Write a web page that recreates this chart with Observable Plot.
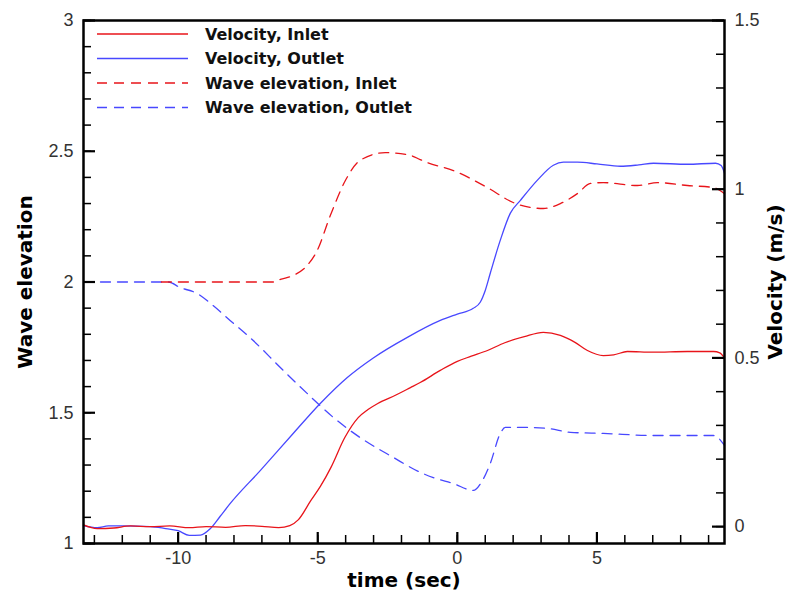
<!DOCTYPE html>
<html>
<head>
<meta charset="utf-8">
<script src="https://cdn.jsdelivr.net/npm/d3@7"></script>
<script src="https://cdn.jsdelivr.net/npm/@observablehq/plot@0.6"></script>
<style>
  html, body { margin: 0; padding: 0; background: #fff; }
  #wrap { position: relative; width: 799px; height: 594px; }
  #legend { position: absolute; left: 0; top: 0; pointer-events: none; }
</style>
</head>
<body>
<div id="wrap"></div>
<script>
// ---- Data ----
// Velocity, Inlet (m/s)
const velInletT = [-13.39,-12.9,-12.3,-11.7,-11.0,-10.3,-9.6,-9.0,-8.3,-7.6,-7.0,-6.4,-6.0,-5.7,-5.25,-4.9,-4.53,-4.03,-3.55,-3.2,-2.85,-2.2,-1.68,-1.33,-0.61,0,0.5,1.08,1.7,2.4,3.08,3.69,4.2,4.66,5.23,5.6,6.09,7.0,8.24,9.18,9.4,9.57];
const velInletV = [0.005,-0.006,-0.004,0.002,0.0,0.002,-0.003,0.0,-0.002,0.003,0.001,-0.003,0.003,0.02,0.077,0.12,0.175,0.264,0.323,0.347,0.365,0.39,0.412,0.427,0.463,0.49,0.505,0.522,0.545,0.563,0.576,0.567,0.547,0.522,0.507,0.509,0.519,0.517,0.519,0.519,0.515,0.5];
// Velocity, Outlet (m/s)
const velOutletT = [-13.39,-12.9,-12.5,-12.0,-11.0,-10.5,-10.0,-9.6,-9.2,-8.85,-8.5,-8.14,-7.06,-5.88,-4.91,-3.94,-3.01,-1.79,-0.61,0.0,0.57,0.82,1.0,1.18,1.54,1.9,2.26,2.87,3.44,3.8,4.3,5.0,5.84,6.5,7.03,8.24,9.25,9.45,9.57];
const velOutletV = [0.003,-0.003,0.002,0.002,0.0,-0.005,-0.012,-0.026,-0.025,-0.006,0.03,0.068,0.166,0.276,0.365,0.442,0.50,0.561,0.611,0.63,0.647,0.665,0.70,0.751,0.849,0.929,0.967,1.027,1.071,1.08,1.08,1.075,1.068,1.072,1.077,1.074,1.077,1.07,1.047];
// Wave elevation, Inlet
const elevInletT = [-10.6,-9.0,-7.5,-6.6,-6.34,-5.88,-5.38,-5.02,-4.55,-4.01,-3.48,-2.58,-1.68,-1.33,-1.08,-0.14,1.08,2.0,2.62,3.08,3.69,4.3,4.77,5.23,6.45,7.17,8.24,9.18,9.57];
const elevInletE = [2.0,2.0,2.0,2.0,2.01,2.025,2.063,2.12,2.254,2.388,2.465,2.495,2.484,2.468,2.457,2.426,2.361,2.304,2.285,2.281,2.30,2.338,2.377,2.38,2.369,2.38,2.369,2.361,2.338];
// Wave elevation, Outlet
const elevOutletT = [-13.39,-11.5,-10.36,-9.93,-9.32,-8.75,-8.14,-7.31,-6.34,-5.38,-4.44,-3.48,-2.29,-1.33,-0.86,-0.14,0.57,0.9,1.18,1.54,1.72,2.26,3.23,4.05,5.23,7.03,9.18,9.57];
const elevOutletE = [2.0,2.0,2.0,1.979,1.956,1.91,1.853,1.776,1.673,1.574,1.482,1.405,1.329,1.272,1.252,1.229,1.203,1.241,1.306,1.421,1.444,1.444,1.44,1.425,1.421,1.413,1.413,1.375];

// Tick labels
const timeMajor = [-10, -5, 0, 5];
const timeMinor = d3.range(-13, 10);
const elevMajor = [1, 1.5, 2, 2.5, 3];
const elevMinor = d3.range(10, 31).map(d => d / 10);
const velMajor = [0, 0.5, 1, 1.5];
const velMinor = d3.range(0, 16).map(d => d / 10);

const seriesNames = ["Velocity, Inlet", "Velocity, Outlet", "Wave elevation, Inlet", "Wave elevation, Outlet"];
const red = "#e8141a", blue = "#4848ff";

// ---- Dual-axis mapping: velocity -> elevation coordinates ----
const elevDomain = [1, 3];
const velDomain = [-0.05, 1.5];
const toE = v => elevDomain[0] + (v - velDomain[0]) * (elevDomain[1] - elevDomain[0]) / (velDomain[1] - velDomain[0]);
const fromE = e => velDomain[0] + (e - elevDomain[0]) * (velDomain[1] - velDomain[0]) / (elevDomain[1] - elevDomain[0]);

const zip = (T, Y) => T.map((t, i) => ({t, y: Y[i]}));
const vIn = velInletT.map((t, i) => ({t, y: toE(velInletV[i])}));
const vOut = velOutletT.map((t, i) => ({t, y: toE(velOutletV[i])}));
const eIn = zip(elevInletT, elevInletE);
const eOut = zip(elevOutletT, elevOutletE);

const W = 799, H = 594;
const mL = 83, mR = 75, mT = 20, mB = 51;
const fw = W - mL - mR, fh = H - mT - mB;
const fmt = d => String(Math.round(d * 10) / 10);

const chart = Plot.plot({
  width: W, height: H,
  marginLeft: mL, marginRight: mR, marginTop: mT, marginBottom: mB,
  style: {fontFamily: "'Liberation Sans', Arial, sans-serif", fontSize: "18px", background: "#fff", overflow: "visible"},
  x: {domain: [-13.39, 9.57], axis: null},
  y: {domain: elevDomain, axis: null},
  marks: [
    Plot.line(eOut, {x: "t", y: "y", stroke: blue, strokeWidth: 1.3, strokeDasharray: "10,7", curve: "monotone-x"}),
    Plot.line(eIn, {x: "t", y: "y", stroke: red, strokeWidth: 1.3, strokeDasharray: "10,7", curve: "monotone-x"}),
    Plot.line(vOut, {x: "t", y: "y", stroke: blue, strokeWidth: 1.3, curve: "monotone-x"}),
    Plot.line(vIn, {x: "t", y: "y", stroke: red, strokeWidth: 1.3, curve: "monotone-x"}),
    // inward ticks
    Plot.tickY(elevMinor, {y: d => d, stroke: "black", strokeWidth: 1.5, insetRight: fw - 8}),
    Plot.tickY(elevMajor, {y: d => d, stroke: "black", strokeWidth: 2.2, insetRight: fw - 12}),
    Plot.tickY(velMinor.map(toE), {y: d => d, stroke: "black", strokeWidth: 1.5, insetLeft: fw - 8}),
    Plot.tickY(velMajor.map(toE), {y: d => d, stroke: "black", strokeWidth: 2.2, insetLeft: fw - 12}),
    Plot.tickX(timeMinor, {x: d => d, stroke: "black", strokeWidth: 1.5, insetTop: fh - 8}),
    Plot.tickX(timeMajor, {x: d => d, stroke: "black", strokeWidth: 2.2, insetTop: fh - 11}),
    Plot.frame({stroke: "black", strokeWidth: 2.5}),
    // tick labels
    Plot.axisY({ticks: elevMajor, tickSize: 0, tickPadding: 10, tickFormat: fmt, label: null, fill: "#333", fontSize: 18}),
    Plot.axisY({anchor: "right", ticks: velMajor.map(toE), tickSize: 0, tickPadding: 10, tickFormat: e => fmt(fromE(e)), label: null, fill: "#333", fontSize: 18}),
    Plot.axisX({ticks: timeMajor, tickSize: 0, tickPadding: 8, tickFormat: fmt, label: null, fill: "#333", fontSize: 18}),
    // axis titles
    Plot.text(["time (sec)"], {frameAnchor: "bottom", textAnchor: "middle", lineAnchor: "middle", dy: 37, fontSize: 20, fontWeight: "bold", fontFamily: "'DejaVu Sans', sans-serif", fill: "black"}),
    Plot.text(["Wave elevation"], {frameAnchor: "left", textAnchor: "middle", lineAnchor: "middle", rotate: -90, dx: -58, fontSize: 20, fontWeight: "bold", fontFamily: "'DejaVu Sans', sans-serif", fill: "black"}),
    Plot.text(["Velocity (m/s)"], {frameAnchor: "right", textAnchor: "middle", lineAnchor: "middle", rotate: -90, dx: 51, fontSize: 20, fontWeight: "bold", fontFamily: "'DejaVu Sans', sans-serif", fill: "black"})
  ]
});

const wrap = document.getElementById("wrap");
wrap.appendChild(chart);

// Legend overlay (inside the frame, top-left)
const styles = [
  {stroke: red, dash: null},
  {stroke: blue, dash: null},
  {stroke: red, dash: "10,7"},
  {stroke: blue, dash: "10,7"}
];
const leg = d3.select(wrap).append("svg").attr("id", "legend").attr("width", W).attr("height", 140);
seriesNames.forEach((name, i) => {
  const y = 34 + i * 24.5;
  leg.append("line").attr("x1", 97).attr("x2", 188).attr("y1", y).attr("y2", y)
    .attr("stroke", styles[i].stroke).attr("stroke-width", 1.5)
    .attr("stroke-dasharray", styles[i].dash);
  leg.append("text").attr("x", 205).attr("y", y).attr("dy", "0.35em")
    .attr("font-family", "'DejaVu Sans', sans-serif").attr("font-weight", "bold")
    .attr("font-size", 16).attr("fill", "#111").text(name);
});
</script>
</body>
</html>
